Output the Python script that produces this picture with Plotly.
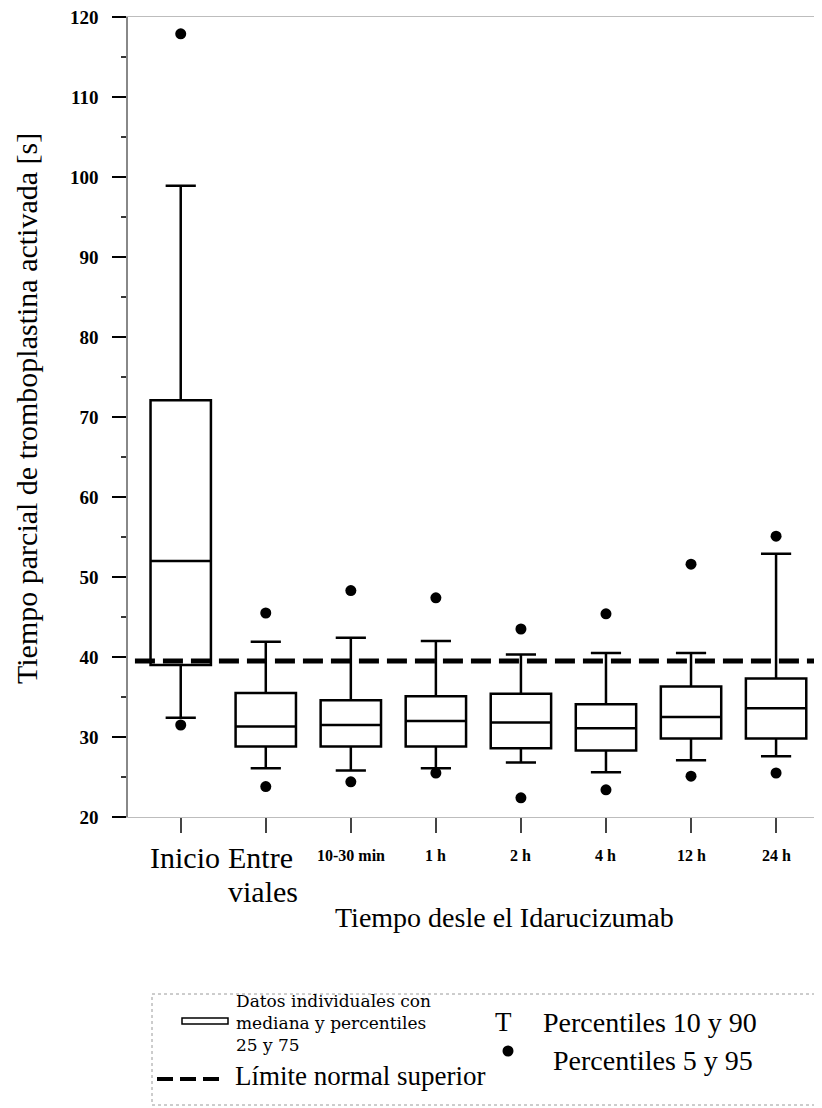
import plotly.graph_objects as go

# ---------------- data ----------------
categories = ["Inicio", "Entre viales", "10-30 min", "1 h", "2 h", "4 h", "12 h", "24 h"]
p5 = [31.5, 23.8, 24.4, 25.5, 22.4, 23.4, 25.1, 25.5]
p10 = [32.4, 26.1, 25.8, 26.1, 26.8, 25.6, 27.1, 27.6]
q1 = [39.0, 28.8, 28.8, 28.8, 28.6, 28.3, 29.8, 29.8]
median = [52.0, 31.3, 31.5, 32.0, 31.8, 31.1, 32.5, 33.6]
q3 = [72.1, 35.5, 34.6, 35.1, 35.4, 34.1, 36.3, 37.3]
p90 = [98.9, 41.9, 42.4, 42.0, 40.3, 40.5, 40.5, 52.9]
p95 = [117.9, 45.5, 48.3, 47.4, 43.5, 45.4, 51.6, 55.1]
upper_normal_limit = 39.5
y_ticks = [20, 30, 40, 50, 60, 70, 80, 90, 100, 110, 120]

x_pos = list(range(len(categories)))

# ---------------- layout helpers (window pixel -> paper) ----------------
OFF = 8  # page body margin
W, H = 822 - OFF, 1108 - OFF
ML, MT = 128 - OFF, 17 - OFF
PW, PH = 694, 800
MR = W - ML - PW
MB = H - MT - PH


def px(x):
    return (x - 128) / PW


def py(y):
    return (817 - y) / PH


SERIF = "Liberation Serif"

fig = go.Figure()

fig.add_trace(go.Box(
    x=x_pos, q1=q1, median=median, q3=q3,
    lowerfence=p10, upperfence=p90,
    width=0.71, whiskerwidth=0.5,
    fillcolor="white",
    line=dict(color="black", width=2.5),
    boxpoints=False, showlegend=False, hoverinfo="skip",
))

fig.add_trace(go.Scatter(
    x=x_pos + x_pos, y=p5 + p95, mode="markers",
    marker=dict(color="black", size=11),
    showlegend=False, hoverinfo="skip",
))

# upper normal limit
fig.add_shape(type="line", xref="paper", yref="y", x0=0.01, x1=1,
              y0=upper_normal_limit, y1=upper_normal_limit,
              line=dict(color="black", width=5, dash="20px,8px"), layer="above")

# ---------------- x tick labels ----------------
big_labels = [("Inicio", 0, 4, 857), ("Entre", 1, -5, 857), ("viales", 1, -3, 891)]
for txt, xi, sh, yy in big_labels:
    fig.add_annotation(text=txt, xref="x", yref="paper", x=x_pos[xi], xshift=sh,
                       y=py(yy), xanchor="center", yanchor="middle", showarrow=False,
                       font=dict(family=SERIF, size=30, color="black"))
for i in range(2, len(categories)):
    fig.add_annotation(text=categories[i], xref="x", yref="paper", x=x_pos[i],
                       y=py(855), xanchor="center", yanchor="middle", showarrow=False,
                       font=dict(family=SERIF, size=16, color="black", weight="bold"))

# ---------------- legend (drawn) ----------------
fig.add_shape(type="rect", xref="paper", yref="paper",
              x0=px(152), x1=px(821), y0=py(994), y1=py(1105),
              line=dict(color="#9a9a9a", width=1, dash="dot"))
fig.add_shape(type="rect", xref="paper", yref="paper",
              x0=px(182), x1=px(228), y0=py(1018), y1=py(1024),
              line=dict(color="black", width=1.5), fillcolor="white")
fig.add_shape(type="line", xref="paper", yref="paper",
              x0=px(157), x1=px(223), y0=py(1079), y1=py(1079),
              line=dict(color="black", width=4, dash="16px,7px"))
fig.add_shape(type="circle", xref="paper", yref="paper",
              x0=px(502.5), x1=px(513.5), y0=py(1045.5), y1=py(1056.5),
              line=dict(color="black", width=0), fillcolor="black")

fig.add_annotation(text="Datos individuales con<br>mediana y percentiles<br>25 y 75",
                   xref="paper", yref="paper", x=px(234), y=py(1023),
                   xanchor="left", yanchor="middle", align="left", showarrow=False,
                   font=dict(family="DejaVu Serif", size=17, color="black"))
legend_texts = [
    ("Límite normal superior", 233, 1076, 27, "left"),
    ("T", 504, 1022, 27, "center"),
    ("Percentiles 10 y 90", 541, 1022, 28, "left"),
    ("Percentiles 5 y 95", 551, 1060, 28, "left"),
]
for txt, xx, yy, fs, anc in legend_texts:
    fig.add_annotation(text=txt, xref="paper", yref="paper", x=px(xx), y=py(yy),
                       xanchor=anc, yanchor="middle", showarrow=False,
                       font=dict(family=SERIF, size=fs, color="black"))

# axis titles
fig.add_annotation(text="Tiempo desle el Idarucizumab", xref="paper", yref="paper",
                   x=px(333), y=py(917), xanchor="left", yanchor="middle",
                   showarrow=False, font=dict(family=SERIF, size=28, color="black"))
fig.add_annotation(text="Tiempo parcial de tromboplastina activada [s]",
                   xref="paper", yref="paper", x=px(26), y=py(409),
                   xanchor="center", yanchor="middle", textangle=-90,
                   showarrow=False, font=dict(family=SERIF, size=30, color="black"))

fig.update_layout(
    width=W, height=H,
    margin=dict(l=ML, r=MR, t=MT, b=MB),
    paper_bgcolor="white", plot_bgcolor="white",
    font=dict(family=SERIF, color="black"),
    xaxis=dict(
        range=[-0.62, 7.54], tickmode="array", tickvals=x_pos,
        showticklabels=False,
        showgrid=False, zeroline=False,
        showline=True, linecolor="#bdbdbd", linewidth=1, mirror=True,
        ticks="outside", ticklen=15, tickwidth=2, tickcolor="#444",
    ),
    yaxis=dict(
        range=[20, 120], tickmode="array", tickvals=y_ticks,
        showgrid=False, zeroline=False,
        showline=True, linecolor="#888", linewidth=1.5,
        ticks="outside", ticklen=14, tickwidth=2, tickcolor="black",
        minor=dict(ticks="outside", ticklen=5, tickwidth=1.5, tickcolor="#333", dtick=5),
        tickfont=dict(family=SERIF, size=19, color="black", weight="bold"),
        ticklabelstandoff=10, ticklabeloverflow="allow",
    ),
)

fig.write_html("out.html")
